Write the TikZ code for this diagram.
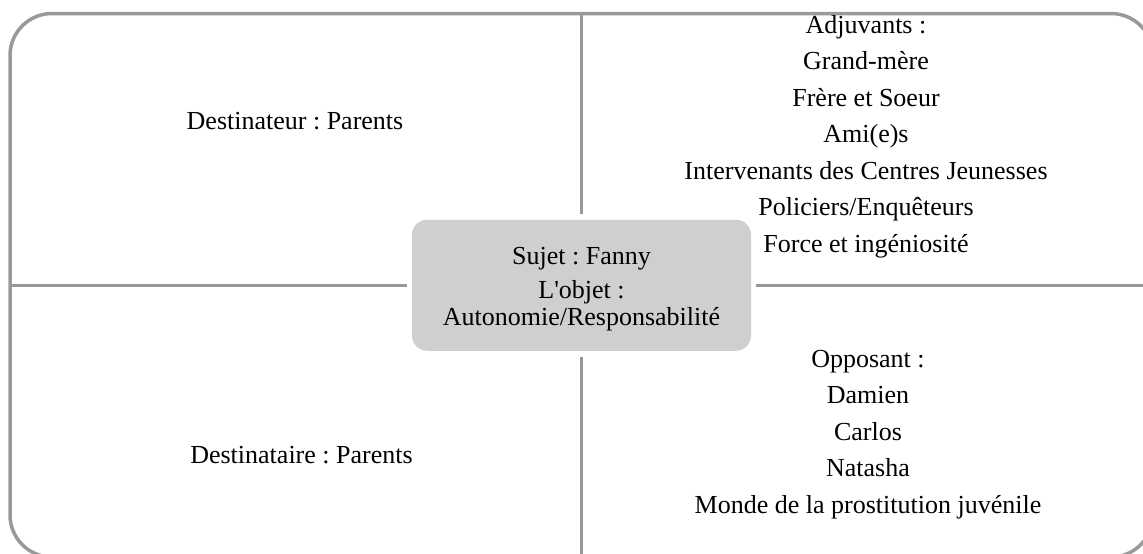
\documentclass[tikz,border=0pt]{standalone}
\usepackage{fontspec}
\setmainfont{Liberation Serif}
\usepackage{tikz}
\usetikzlibrary{calc,positioning}
\frenchspacing
\definecolor{framegray}{RGB}{153,153,153}
\definecolor{boxgray}{RGB}{207,207,207}
\tikzstyle{divider} = [draw=framegray, line width=3.5pt]
\tikzstyle{lbl} = [inner sep=0pt, anchor=base, font=\fontsize{26}{26}\selectfont]
\tikzstyle{centerbox} = [fill=boxgray, rounded corners=15pt, minimum width=339pt, minimum height=131pt, inner sep=0pt]

\begin{document}
\begin{tikzpicture}[x=1pt,y=-1pt]
    \clip (0,0) rectangle (1143,554);
    % frame and quadrant lines
    \draw[divider, rounded corners=42pt] (10,13.5) rectangle (1153,557);
    \coordinate (topmid) at (581.5,13.5);
    \coordinate (botmid) at (581.5,557);
    \coordinate (leftmid) at (10,285.25);
    \coordinate (rightmid) at (1153,285.25);
    \node[centerbox] (sujet) at (581.5,285.25) {};
    \draw[divider, shorten >=6pt] (topmid) -- (sujet);
    \draw[divider, shorten >=6pt] (botmid) -- (sujet);
    \draw[divider, shorten >=5pt] (leftmid) -- (sujet);
    \draw[divider, shorten >=5pt] (rightmid) -- (sujet);
    % center text
    \node[lbl] (sujet1) at (581.5,264.5) {Sujet : Fanny};
    \node[lbl] (sujet2) at (581.5,298.5) {L\textquotesingle objet :};
    \node[lbl] (sujet3) at (581.5,325) {Autonomie/Responsabilit\'e};
    % left quadrants
    \node[lbl] (destinateur) at (295,129.5) {Destinateur : Parents};
    \node[lbl] (destinataire) at (301.5,463) {Destinataire : Parents};
    % right quadrants
    \foreach \txt [count=\i] in {Adjuvants :, Grand-mère, Frère et Soeur, Ami(e)s, Intervenants des Centres Jeunesses, Policiers/Enquêteurs, Force et ingéniosité}
      \node[lbl] (adj\i) at (866,{33+36.5*(\i-1)}) {\txt};
    \foreach \txt [count=\i] in {Opposant :, Damien, Carlos, Natasha, Monde de la prostitution juvénile}
      \node[lbl] (opp\i) at (868,{367+36.5*(\i-1)}) {\txt};
\end{tikzpicture}
\end{document}
